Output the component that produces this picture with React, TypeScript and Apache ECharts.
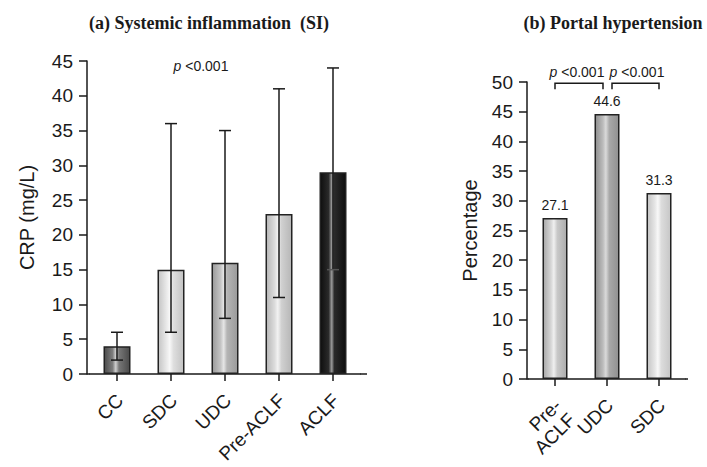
import React, { useEffect, useRef } from "react";
import * as echarts from "echarts";

// ---- Data ----
const crpCategories = ["CC", "SDC", "UDC", "Pre-ACLF", "ACLF"];
const crpMedian = [4, 15, 16, 23, 29];
const crpLow = [2, 6, 8, 11, 15];
const crpHigh = [6, 36, 35, 41, 44];
const crpTicks = { min: 0, max: 45, interval: 5 };

const phCategories = ["Pre-\nACLF", "UDC", "SDC"];
const phPercent = [27.1, 44.6, 31.3];
const phTicks = { min: 0, max: 50, interval: 5 };
const phBrackets = [
  [0, 1],
  [1, 2],
];
const pText = "<0.001";

// ---- Styles ----
const grad = (stops: [number, string][]) => ({
  type: "linear",
  x: 0,
  y: 0,
  x2: 1,
  y2: 0,
  colorStops: stops.map(([offset, color]) => ({ offset, color })),
});

const crpColors = [
  grad([[0, "#4a4a4a"], [0.33, "#7e7e7e"], [0.45, "#cfcfcf"], [0.58, "#777"], [1, "#4a4a4a"]]),
  grad([[0, "#c4c4c4"], [0.35, "#ececec"], [0.45, "#f8f8f8"], [0.6, "#dedede"], [1, "#c2c2c2"]]),
  grad([[0, "#999"], [0.33, "#c4c4c4"], [0.45, "#e6e6e6"], [0.58, "#b4b4b4"], [1, "#9a9a9a"]]),
  grad([[0, "#b6b6b6"], [0.33, "#dcdcdc"], [0.45, "#f2f2f2"], [0.6, "#d0d0d0"], [1, "#b6b6b6"]]),
  grad([[0, "#0e0e0e"], [0.33, "#2a2a2a"], [0.45, "#9a9a9a"], [0.55, "#2a2a2a"], [1, "#0e0e0e"]]),
];
const phColors = [
  grad([[0, "#a8a8a8"], [0.33, "#d6d6d6"], [0.45, "#f0f0f0"], [0.6, "#c8c8c8"], [1, "#acacac"]]),
  grad([[0, "#8e8e8e"], [0.33, "#bcbcbc"], [0.45, "#dadada"], [0.6, "#a8a8a8"], [1, "#909090"]]),
  grad([[0, "#c4c4c4"], [0.33, "#e6e6e6"], [0.45, "#f8f8f8"], [0.6, "#dcdcdc"], [1, "#c6c6c6"]]),
];

const SANS = "Liberation Sans, Arial, sans-serif";
const SERIF = "Liberation Serif, Times New Roman, serif";
const INK = "#1a1a1a";

const yAxisCommon = {
  type: "value",
  splitLine: { show: false },
  axisLine: { show: true, lineStyle: { color: INK, width: 1.5 } },
  axisTick: { show: true, inside: false, length: 8, lineStyle: { color: INK, width: 1.5 } },
  axisLabel: { color: INK, fontSize: 19, fontFamily: SANS, margin: 14 },
  nameLocation: "middle",
  nameRotate: 90,
  nameTextStyle: { color: INK, fontSize: 20, fontFamily: SANS },
};
const xAxisCommon = {
  type: "category",
  axisLine: { show: true, lineStyle: { color: INK, width: 1.5 } },
  axisTick: { show: true, alignWithLabel: true, length: 7, lineStyle: { color: INK, width: 1.5 } },
  axisLabel: {
    color: INK,
    fontSize: 19,
    fontFamily: SANS,
    rotate: 45,
    margin: 12,
    interval: 0,
    lineHeight: 20,
    align: "right",
    verticalAlign: "top",
    padding: [0, 6, 0, 0],
  },
};

const errorRender = (params: any, api: any) => {
  const i = api.value(0);
  const lo = api.coord([i, api.value(1)]);
  const hi = api.coord([i, api.value(2)]);
  const cap = 6;
  const style = { stroke: INK, lineWidth: 1.5 };
  return {
    type: "group",
    children: [
      { type: "line", shape: { x1: lo[0], y1: lo[1], x2: hi[0], y2: hi[1] }, style },
      { type: "line", shape: { x1: hi[0] - cap, y1: hi[1], x2: hi[0] + cap, y2: hi[1] }, style },
      {
        type: "line",
        shape: { x1: lo[0] - cap, y1: lo[1], x2: lo[0] + cap, y2: lo[1] },
        style: { stroke: i === 4 ? "#555" : INK, lineWidth: 1.5 },
      },
    ],
  };
};

const bracketRender = (params: any, api: any) => {
  const a = api.coord([api.value(0), 49.8]);
  const b = api.coord([api.value(1), 49.8]);
  const drop = 6;
  const x1 = a[0] + (params.dataIndex === 1 ? 5 : 0);
  const x2 = b[0] - (params.dataIndex === 0 ? 4 : 0);
  const y = a[1];
  return {
    type: "polyline",
    shape: { points: [[x1, y + drop], [x1, y], [x2, y], [x2, y + drop]] },
    style: { stroke: INK, lineWidth: 1.5, fill: "none" },
  };
};

const pLabel = (x: number, y: number) => ({
  type: "text",
  x,
  y,
  style: {
    text: "{i|p} " + pText,
    rich: { i: { fontStyle: "italic", fontSize: 14, fontFamily: SANS, fill: INK } },
    fontSize: 14,
    fontFamily: SANS,
    fill: INK,
    textAlign: "center",
    textVerticalAlign: "middle",
  },
});

export default function App() {
  const ref = useRef<HTMLDivElement>(null);
  useEffect(() => {
    if (!ref.current) return;
    const chart = echarts.init(ref.current, undefined, { renderer: "svg" });
    chart.setOption({
      animation: false,
      backgroundColor: "#fff",
      grid: [
        { left: 90, top: 61, width: 270, height: 313 },
        { left: 529, top: 82, width: 156, height: 297 },
      ],
      xAxis: [
        { ...xAxisCommon, gridIndex: 0, data: crpCategories },
        { ...xAxisCommon, gridIndex: 1, data: phCategories },
      ],
      yAxis: [
        { ...yAxisCommon, gridIndex: 0, offset: 3, ...crpTicks, name: "CRP (mg/L)", nameGap: 50 },
        { ...yAxisCommon, gridIndex: 1, offset: 2, ...phTicks, name: "Percentage", nameGap: 47 },
      ],
      series: [
        {
          type: "bar",
          xAxisIndex: 0,
          yAxisIndex: 0,
          barWidth: 27,
          data: crpMedian.map((v, i) => ({
            value: v,
            itemStyle: { color: crpColors[i], borderColor: "#222", borderWidth: 1.5 },
          })),
          z: 2,
        },
        {
          type: "custom",
          xAxisIndex: 0,
          yAxisIndex: 0,
          renderItem: errorRender,
          encode: { x: 0, y: [1, 2] },
          data: crpCategories.map((_, i) => [i, crpLow[i], crpHigh[i]]),
          z: 3,
        },
        {
          type: "bar",
          xAxisIndex: 1,
          yAxisIndex: 1,
          barWidth: 25,
          data: phPercent.map((v, i) => ({
            value: v,
            itemStyle: { color: phColors[i], borderColor: "#222", borderWidth: 1.5 },
          })),
          label: {
            show: true,
            position: "top",
            distance: 6,
            color: INK,
            fontSize: 14,
            fontFamily: SANS,
          },
        },
        {
          type: "custom",
          xAxisIndex: 1,
          yAxisIndex: 1,
          renderItem: bracketRender,
          encode: { x: [0, 1] },
          data: phBrackets,
          clip: false,
        },
      ],
      graphic: [
        {
          type: "text",
          x: 209,
          y: 23,
          style: {
            text: "(a) Systemic inflammation  (SI)",
            fontSize: 18,
            fontWeight: "bold",
            fontFamily: SERIF,
            fill: INK,
            textAlign: "center",
            textVerticalAlign: "middle",
          },
        },
        {
          type: "text",
          x: 613,
          y: 23,
          style: {
            text: "(b) Portal hypertension",
            fontSize: 18,
            fontWeight: "bold",
            fontFamily: SERIF,
            fill: INK,
            textAlign: "center",
            textVerticalAlign: "middle",
          },
        },
        pLabel(201, 66),
        pLabel(577, 72),
        pLabel(637, 72),
        {
          type: "line",
          shape: { x1: 360, y1: 374, x2: 367, y2: 374 },
          style: { stroke: INK, lineWidth: 1.5 },
        },
        {
          type: "line",
          shape: { x1: 685, y1: 379, x2: 688, y2: 379 },
          style: { stroke: INK, lineWidth: 1.5 },
        },
        {
          type: "line",
          shape: { x1: 87, y1: 374, x2: 90, y2: 374 },
          style: { stroke: INK, lineWidth: 1.5 },
        },
        {
          type: "line",
          shape: { x1: 527, y1: 379, x2: 529, y2: 379 },
          style: { stroke: INK, lineWidth: 1.5 },
        },
      ],
    });
    return () => chart.dispose();
  }, []);
  return (
    <div
      ref={ref}
      style={{ position: "fixed", left: 0, top: 0, width: 707, height: 467, background: "#fff" }}
    />
  );
}
